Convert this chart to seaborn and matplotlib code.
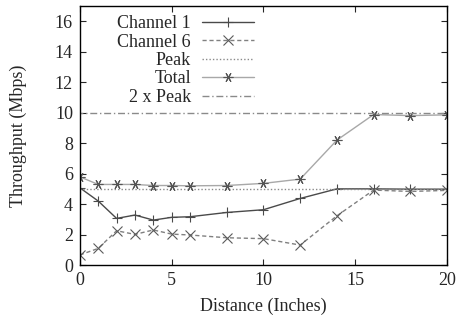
import matplotlib
matplotlib.use("Agg")
import matplotlib.pyplot as plt
import seaborn as sns
import pandas as pd

distance = [0, 1, 2, 3, 4, 5, 6, 8, 10, 12, 14, 16, 18, 20]
channel1 = [5.07, 4.2, 3.06, 3.28, 2.95, 3.13, 3.17, 3.45, 3.63, 4.37, 5.0, 5.0, 4.98, 4.98]
channel6 = [0.66, 1.09, 2.25, 2.01, 2.3, 2.03, 1.97, 1.79, 1.73, 1.31, 3.23, 4.92, 4.83, 4.9]
total = [5.79, 5.29, 5.29, 5.29, 5.22, 5.22, 5.2, 5.22, 5.36, 5.64, 8.2, 9.88, 9.81, 9.86]
peak = 5.0
xticks = [0, 5, 10, 15, 20]
yticks = [0, 2, 4, 6, 8, 10, 12, 14, 16]

sns.set_style("ticks")
plt.rcParams['font.family'] = ['Liberation Serif', 'DejaVu Serif']
plt.rcParams['font.size'] = 13

fig = plt.figure(figsize=(4.59, 3.22), dpi=100)
ax = fig.add_axes([0.174, 0.177, 0.8, 0.804])

df = pd.DataFrame({"d": distance, "c1": channel1, "c6": channel6, "t": total})

sns.lineplot(data=df, x="d", y="c1", ax=ax, color="#4a4a4a", lw=1.0,
             marker="+", markersize=7, markeredgewidth=0.8,
             markeredgecolor="#4a4a4a", label="Channel 1")
sns.lineplot(data=df, x="d", y="c6", ax=ax, color="#808080", lw=1.0,
             linestyle=(0, (3, 2)), marker="x", markersize=6.5, markeredgewidth=0.8,
             markeredgecolor="#5a5a5a", label="Channel 6")
sns.lineplot(x=[-1, 21], y=[peak, peak], ax=ax, color="#8a8a8a", lw=1.0,
             linestyle=(0, (1, 1.5)), label="Peak")
sns.lineplot(data=df, x="d", y="t", ax=ax, color="#a8a8a8", lw=1.0,
             marker=(6, 2, 90), markersize=7, markeredgewidth=0.8,
             markeredgecolor="#555555", label="Total")
sns.lineplot(x=[-1, 21], y=[2 * peak, 2 * peak], ax=ax, color="#8a8a8a", lw=1.0,
             linestyle=(0, (5, 2, 1, 2)), label="2 x Peak")

ax.set_xlim(0, 20)
ax.set_ylim(0, 17)
ax.set_xticks(xticks)
ax.set_yticks(yticks)
ax.set_xlabel("Distance (Inches)", fontsize=13, labelpad=6)
ax.set_ylabel("Throughput (Mbps)", fontsize=13, labelpad=20)
ax.tick_params(direction="in", top=True, right=True, length=4, width=0.8,
               labelsize=13, pad=5)
for s in ax.spines.values():
    s.set_color("black")
    s.set_linewidth(1.0)

leg = ax.legend(loc="upper left", bbox_to_anchor=(0.077, 1.0), markerfirst=False,
                frameon=False, handlelength=2.9, labelspacing=0.08,
                handletextpad=0.6, borderaxespad=0.3, borderpad=0.2, fontsize=13)

fig.savefig("out.png", dpi=100)
